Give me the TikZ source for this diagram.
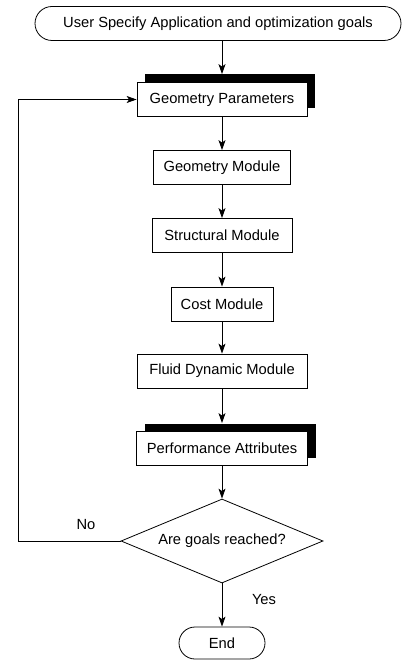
\documentclass[tikz,border=0pt]{standalone}
\usepackage{fontspec}
\setmainfont{Liberation Sans}
\usetikzlibrary{shapes.misc,shapes.geometric,shadows,arrows.meta}

\begin{document}
\begin{tikzpicture}[x=1pt,y=-1pt,
    every node/.style={font=\fontsize{14.7}{17}\selectfont},
    box/.style={draw,fill=white,minimum height=34pt,inner sep=0pt},
    shadowbox/.style={box,general shadow={fill=black,shadow xshift=8pt,shadow yshift=8pt}},
    terminal/.style={draw,rounded rectangle,minimum height=34pt,inner sep=0pt},
    decision/.style={draw,diamond,aspect=2.4,minimum width=202pt,minimum height=84pt,inner sep=0pt},
    flow/.style={-{Stealth[length=10pt,width=7pt,inset=2.5pt]},line width=0.8pt}]
  \useasboundingbox (0,0) rectangle (402,660);
  \begin{scope}[line width=0.8pt]
    \def\mid{222}
    \node[terminal,minimum width=366pt] (start) at (218,23.5) {User Specify Application and optimization goals};
    \node[shadowbox,minimum width=170pt] (gp) at (\mid,99.5) {Geometry Parameters};
    \node[box,minimum width=137pt] (gm) at (\mid,167.5) {Geometry Module};
    \node[box,minimum width=140pt] (sm) at (\mid,235.5) {Structural Module};
    \node[box,minimum width=102pt] (cm) at (\mid,304) {Cost Module};
    \node[box,minimum width=170pt] (fm) at (\mid,371) {Fluid Dynamic Module};
    \node[shadowbox,minimum width=171pt] (pa) at (\mid,448.5) {Performance Attributes};
    \node[decision] (check) at (\mid,541) {Are goals reached?};
    \node[terminal,minimum width=86pt,minimum height=32pt] (end) at (\mid,643) {End};
    \coordinate (back) at (18,541);
    \node (no) at (86,525) {No};
    \node (yes) at (264,600) {Yes};
  \end{scope}
  % arrows stop on top of the black bars
  \draw[flow] (start.south -| gp.north) -- ([yshift=8pt]gp.north);
  \draw[flow] (gp) -- (gm);
  \draw[flow] (gm) -- (sm);
  \draw[flow] (sm) -- (cm);
  \draw[flow] (cm) -- (fm);
  \draw[flow] (fm) -- ([yshift=8pt]pa.north);
  \draw[flow] (pa) -- (check);
  \draw[flow] (check) -- (end);
  \draw[flow] (check.west) -- (back) |- (gp.west);
\end{tikzpicture}
\end{document}
